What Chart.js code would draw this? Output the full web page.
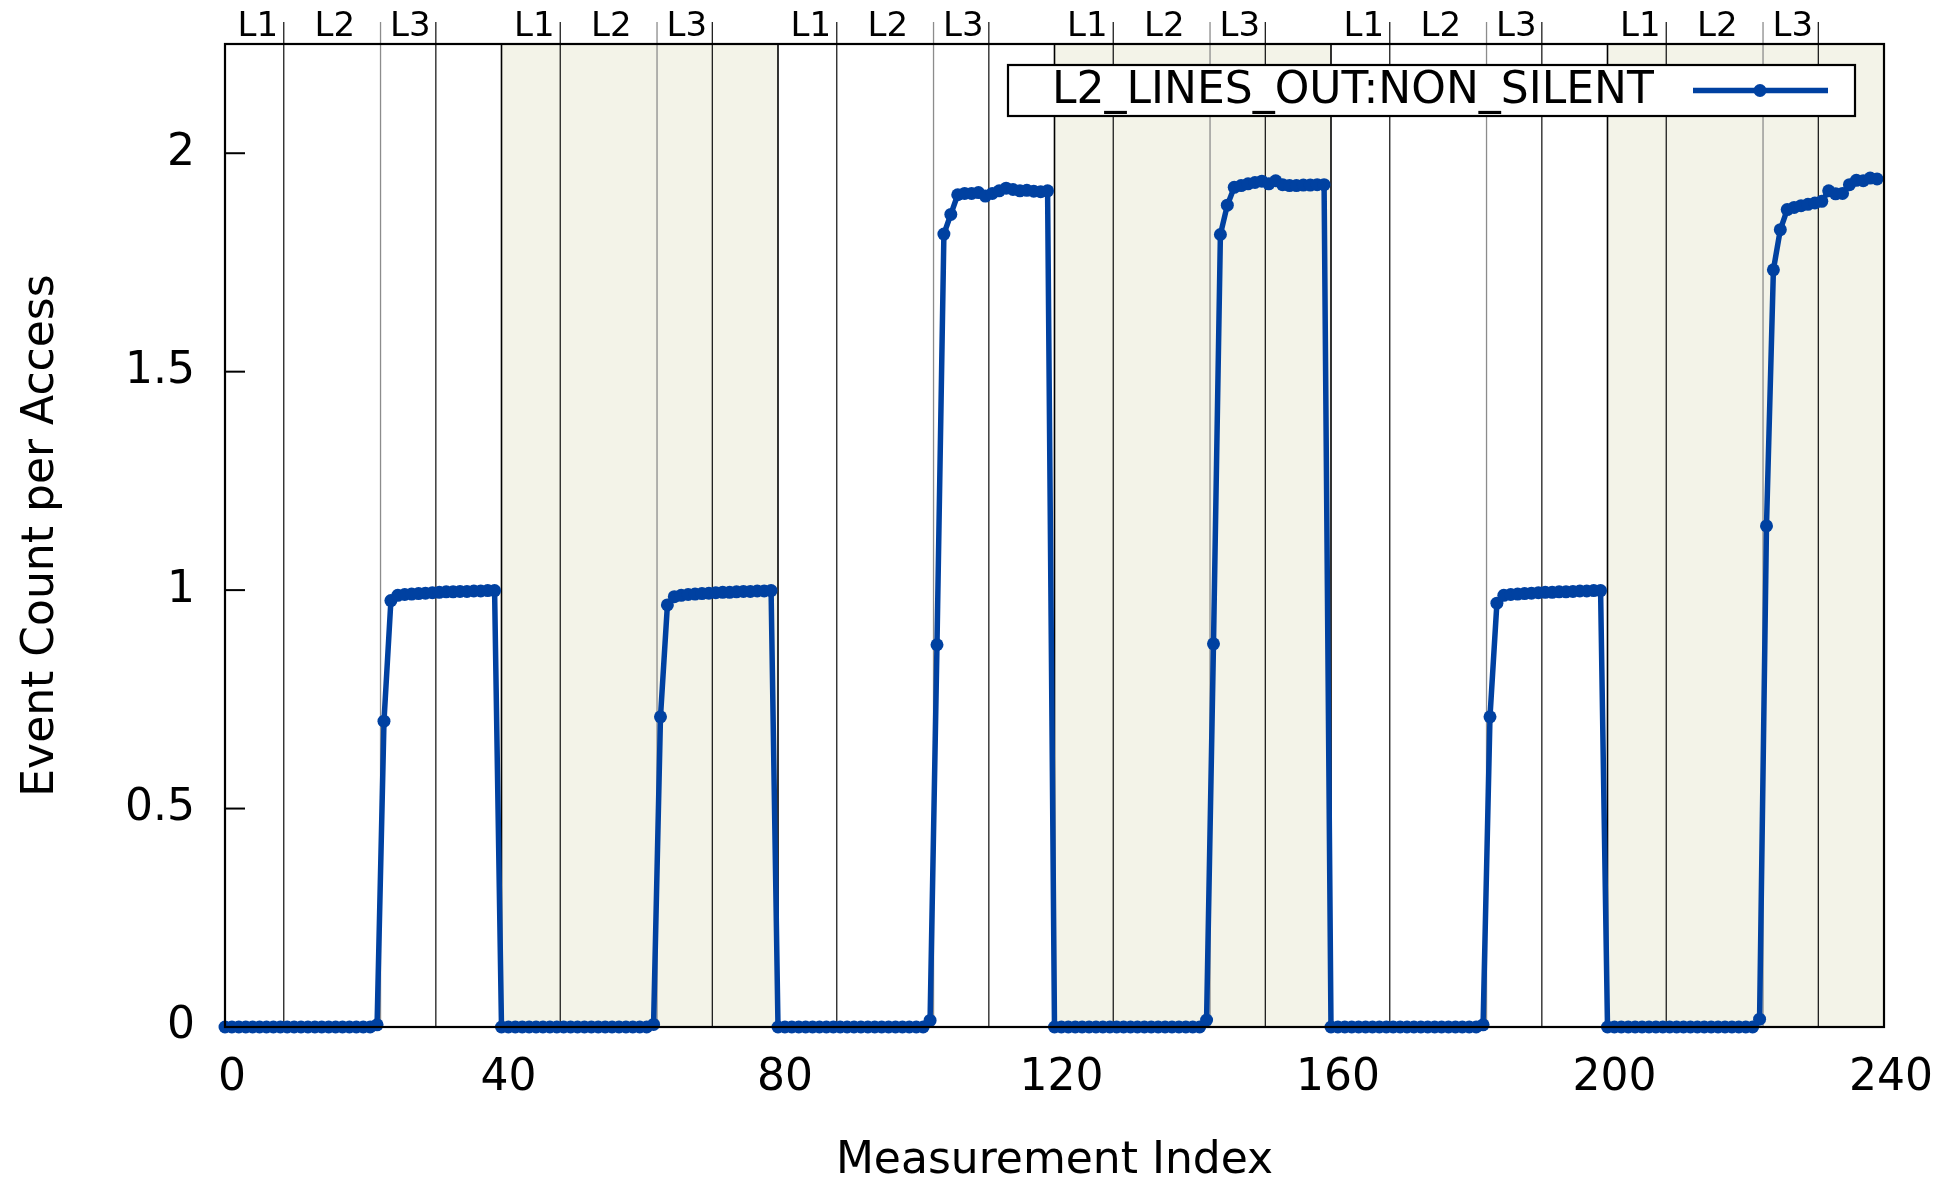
<!DOCTYPE html>
<html><head><meta charset="utf-8">
<script src="https://cdn.jsdelivr.net/npm/chart.js@4.4.1/dist/chart.umd.min.js"></script>
<style>html,body{margin:0;padding:0;background:#fff;}canvas{display:block;}</style>
</head><body>
<canvas id="c" width="1952" height="1179"></canvas>
<script>
// ---------------- data ----------------
const seriesLabel = 'L2_LINES_OUT:NON_SILENT';
const block1 = [0,0,0,0,0,0,0,0,0,0,0,0,0,0,0,0,0,0,0,0,0,0,0.005,0.70,0.976,0.988,0.990,0.991,0.992,0.993,0.994,0.995,0.996,0.996,0.997,0.997,0.998,0.998,0.999,0.999];
const block2 = [0,0,0,0,0,0,0,0,0,0,0,0,0,0,0,0,0,0,0,0,0,0,0.006,0.71,0.966,0.985,0.988,0.990,0.991,0.992,0.993,0.994,0.995,0.995,0.996,0.997,0.997,0.998,0.998,0.999];
const block3 = [0,0,0,0,0,0,0,0,0,0,0,0,0,0,0,0,0,0,0,0,0,0,0.015,0.875,1.815,1.860,1.905,1.908,1.908,1.910,1.902,1.908,1.914,1.920,1.917,1.914,1.915,1.913,1.912,1.914];
const block4 = [0,0,0,0,0,0,0,0,0,0,0,0,0,0,0,0,0,0,0,0,0,0,0.016,0.877,1.814,1.881,1.922,1.926,1.930,1.933,1.936,1.930,1.937,1.928,1.926,1.926,1.927,1.927,1.928,1.928];
const block5 = [0,0,0,0,0,0,0,0,0,0,0,0,0,0,0,0,0,0,0,0,0,0,0.005,0.71,0.970,0.988,0.990,0.991,0.992,0.993,0.994,0.995,0.995,0.996,0.996,0.997,0.998,0.998,0.999,0.999];
const block6 = [0,0,0,0,0,0,0,0,0,0,0,0,0,0,0,0,0,0,0,0,0,0,0.018,1.147,1.733,1.825,1.871,1.876,1.880,1.883,1.886,1.890,1.914,1.907,1.908,1.928,1.938,1.937,1.943,1.941];
const xTicks = [0,40,80,120,160,200,240];
const yTicks = [0,0.5,1,1.5,2];
const blockStarts = [0,40,80,120,160,200];
const shadedBlocks = [[40,80],[120,160],[200,240]];
const levelLabels = ['L1','L2','L3'];
const levelBoundaryOffsets = [8.5,22.5,30.5];
const levelLabelOffsets = [4.75,15.9,26.8];
const xTitle = 'Measurement Index';
const yTitle = 'Event Count per Access';

const allValues = [...block1,...block2,...block3,...block4,...block5,...block6];
const points = allValues.map((v,i)=>({x:i,y:v}));

// ---------------- style ----------------
const FONT = '"DejaVu Sans", "Liberation Sans", sans-serif';
const BLUE = '#0041a1';
const SHADE = '#f3f3e8';

const decor = {
  id:'decor',
  beforeDatasetsDraw(chart){
    const {ctx, chartArea:a, scales:{x}} = chart;
    ctx.save();
    ctx.fillStyle = SHADE;
    shadedBlocks.forEach(([s,e])=>{
      const p0 = x.getPixelForValue(s), p1 = x.getPixelForValue(e);
      ctx.fillRect(p0, a.top, p1-p0, a.bottom-a.top);
    });
    const vline = (px,y0,y1,col,w)=>{ctx.beginPath();ctx.strokeStyle=col;ctx.lineWidth=w;ctx.moveTo(px,y0);ctx.lineTo(px,y1);ctx.stroke();};
    blockStarts.slice(1).forEach(s=>vline(x.getPixelForValue(s),a.top,a.bottom,'#000',1.6));
    blockStarts.forEach(s=>{
      levelBoundaryOffsets.forEach((o,i)=>{
        vline(x.getPixelForValue(s+o), a.top-22, a.bottom, i===1?'#8c8c8c':'#1e1e1e', 1.3);
      });
    });
    ctx.fillStyle='#000';
    ctx.font = '34px '+FONT;
    ctx.textAlign='center'; ctx.textBaseline='alphabetic';
    blockStarts.forEach(s=>{
      levelLabels.forEach((t,i)=>ctx.fillText(t, x.getPixelForValue(s+levelLabelOffsets[i]), 36));
    });
    ctx.restore();
  },
  afterDatasetsDraw(chart){
    const {ctx, chartArea:a, scales:{y}} = chart;
    ctx.save();
    ctx.strokeStyle='#000'; ctx.lineWidth=2.2;
    ctx.strokeRect(a.left, a.top, a.right-a.left, a.bottom-a.top);
    ctx.lineWidth=2;
    yTicks.forEach(v=>{
      const py = y.getPixelForValue(v);
      ctx.beginPath(); ctx.moveTo(a.left, py); ctx.lineTo(a.left+20, py); ctx.stroke();
    });
    // legend box
    const bx=1008, by=65, bw=847, bh=51;
    ctx.fillStyle='#fff'; ctx.fillRect(bx,by,bw,bh);
    ctx.lineWidth=2.2; ctx.strokeStyle='#000'; ctx.strokeRect(bx,by,bw,bh);
    ctx.fillStyle='#000'; ctx.font='44px '+FONT; ctx.textAlign='left'; ctx.textBaseline='middle';
    ctx.fillText(chart.data.datasets[0].label, 1052, by+bh/2+1);
    ctx.strokeStyle=BLUE; ctx.lineWidth=5.5;
    ctx.beginPath(); ctx.moveTo(1693, by+bh/2); ctx.lineTo(1828, by+bh/2); ctx.stroke();
    ctx.fillStyle=BLUE; ctx.beginPath(); ctx.arc(1760, by+bh/2, 6.5, 0, Math.PI*2); ctx.fill();
    ctx.restore();
  }
};

new Chart(document.getElementById('c'), {
  type:'line',
  data:{datasets:[{
    label: seriesLabel,
    data: points,
    borderColor: BLUE, backgroundColor: BLUE,
    borderWidth: 5.5, pointRadius: 6.5, pointBorderWidth: 0,
    pointBackgroundColor: BLUE, tension: 0, clip: false
  }]},
  options:{
    responsive:false, animation:false, devicePixelRatio:1,
    layout:{padding:{left:0,right:68,top:44,bottom:0}},
    plugins:{legend:{display:false}, tooltip:{enabled:false}},
    scales:{
      x:{
        type:'linear', min:0, max:240,
        afterBuildTicks:s=>{s.ticks = xTicks.map(v=>({value:v}));},
        afterFit:s=>{s.height = 152; s.paddingLeft = 0; s.paddingRight = 0;},
        grid:{display:false, drawTicks:false, tickLength:0}, border:{display:false},
        ticks:{font:{family:FONT,size:44,lineHeight:1.2}, color:'#000', padding:25, labelOffset:7, maxRotation:0, autoSkip:false, callback:v=>String(v)},
        title:{display:true, text:xTitle, color:'#000', font:{family:FONT,size:44,lineHeight:1}, padding:{top:0,bottom:-5}}
      },
      y:{
        type:'linear', min:0, max:2.25,
        afterBuildTicks:s=>{s.ticks = yTicks.map(v=>({value:v}));},
        afterFit:s=>{s.width = 225; s.paddingTop = 0; s.paddingBottom = 0;},
        grid:{display:false, drawTicks:false, tickLength:0}, border:{display:false},
        ticks:{font:{family:FONT,size:44}, color:'#000', padding:30, callback:v=>String(v)},
        title:{display:true, text:yTitle, color:'#000', font:{family:FONT,size:44,lineHeight:1}, padding:{top:20,bottom:0}}
      }
    }
  },
  plugins:[decor]
});
</script>
</body></html>
